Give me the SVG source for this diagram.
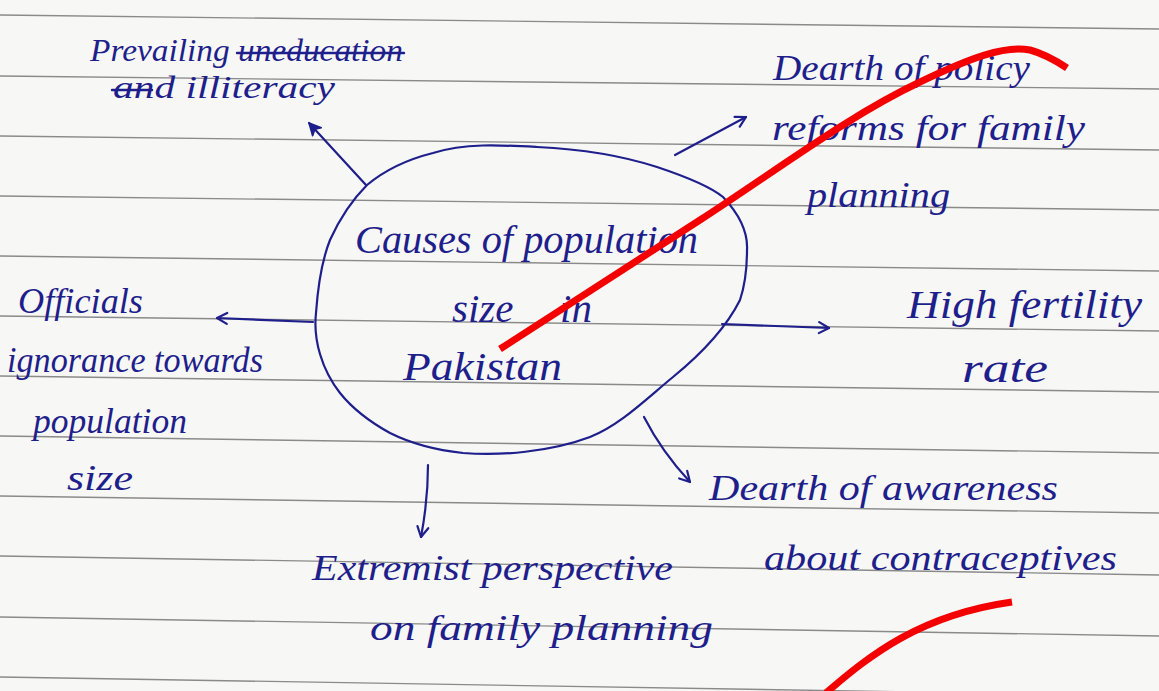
<svg xmlns="http://www.w3.org/2000/svg" width="1159" height="691" viewBox="0 0 1159 691">
<defs>
<style>
.ink{fill:#1f1f8c;font-family:"Liberation Serif","DejaVu Serif",serif;font-style:italic;font-size:36px}
.big{font-size:41px}
.small{font-size:32px}
.rule{stroke:#8a8a8a;stroke-width:1.4;fill:none}
.edge{stroke:#1f1f8c;stroke-width:2.2;fill:none;stroke-linecap:round}
.strike{stroke:#1f1f8c;stroke-width:2.4;stroke-linecap:round}
.red{stroke:#f40000;stroke-width:7;fill:none;stroke-linecap:butt}
</style>
<marker id="open" viewBox="0 0 14 14" refX="12" refY="7" markerWidth="14" markerHeight="14" markerUnits="userSpaceOnUse" orient="auto">
<path d="M2,1.5 L12,7 L2,12.5" fill="none" stroke="#1f1f8c" stroke-width="2.2" stroke-linecap="round" stroke-linejoin="round"/>
</marker>
<marker id="solid" viewBox="0 0 14 14" refX="12" refY="7" markerWidth="15" markerHeight="15" markerUnits="userSpaceOnUse" orient="auto">
<path d="M1,1.5 L12,7 L1,12.5 L4,7 Z" fill="#1f1f8c" stroke="#1f1f8c" stroke-width="1.5" stroke-linejoin="round"/>
</marker>
</defs>
<rect x="0" y="0" width="1159" height="691" fill="#f7f7f6"/>
<g id="rules">
<line class="rule" x1="0" y1="15" x2="1159" y2="29"/>
<line class="rule" x1="0" y1="76" x2="1159" y2="89"/>
<line class="rule" x1="0" y1="136" x2="1159" y2="150"/>
<line class="rule" x1="0" y1="196" x2="1159" y2="210"/>
<line class="rule" x1="0" y1="256" x2="1159" y2="271"/>
<line class="rule" x1="0" y1="316" x2="1159" y2="331"/>
<line class="rule" x1="0" y1="376" x2="1159" y2="392"/>
<line class="rule" x1="0" y1="436" x2="1159" y2="453"/>
<line class="rule" x1="0" y1="496" x2="1159" y2="513"/>
<line class="rule" x1="0" y1="556" x2="1159" y2="575"/>
<line class="rule" x1="0" y1="617" x2="1159" y2="636"/>
<line class="rule" x1="0" y1="677" x2="1159" y2="696"/>
</g>
<g id="center">
<path class="edge" d="M433,153 C465,143 500,145 537,147 C580,149 620,155 657,167 C690,178 712,188 723,197 C740,215 748,232 747,250 C747,270 745,285 740,300 C725,330 700,355 673,377 C645,400 620,425 590,437 C550,452 500,456 463,453 C435,450 410,443 390,433 C370,422 352,408 340,393 C322,370 313,340 316,313 C318,285 322,260 330,240 C340,218 352,200 367,185 C385,170 405,160 433,153 Z"/>
<text class="ink big" x="355" y="253" textLength="343" lengthAdjust="spacingAndGlyphs">Causes of population</text>
<text class="ink big" y="322"><tspan x="452">size</tspan><tspan x="560">in</tspan></text>
<text class="ink big" x="403" y="380" textLength="159" lengthAdjust="spacingAndGlyphs">Pakistan</text>
</g>
<g id="illiteracy">
<text class="ink small" x="90" y="61" textLength="313" lengthAdjust="spacingAndGlyphs">Prevailing uneducation</text>
<text class="ink small" x="113" y="98" textLength="222" lengthAdjust="spacingAndGlyphs">and illiteracy</text>
<line class="strike" x1="237" y1="53" x2="404" y2="53"/>
<line class="strike" x1="112" y1="90" x2="152" y2="90"/>
</g>
<g id="policy">
<text class="ink" x="773" y="80" textLength="257" lengthAdjust="spacingAndGlyphs">Dearth of policy</text>
<text class="ink" x="772" y="140" textLength="313" lengthAdjust="spacingAndGlyphs">reforms for family</text>
<text class="ink" x="807" y="207" textLength="143" lengthAdjust="spacingAndGlyphs">planning</text>
</g>
<g id="officials">
<text class="ink" x="18" y="313" textLength="125" lengthAdjust="spacingAndGlyphs">Officials</text>
<text class="ink" x="7" y="372" textLength="256" lengthAdjust="spacingAndGlyphs">ignorance towards</text>
<text class="ink" x="33" y="433" textLength="154" lengthAdjust="spacingAndGlyphs">population</text>
<text class="ink" x="67" y="490" textLength="66" lengthAdjust="spacingAndGlyphs">size</text>
</g>
<g id="fertility">
<text class="ink big" x="907" y="318" textLength="235" lengthAdjust="spacingAndGlyphs">High fertility</text>
<text class="ink big" x="962" y="382" textLength="86" lengthAdjust="spacingAndGlyphs">rate</text>
</g>
<g id="extremist">
<text class="ink" x="312" y="580" textLength="361" lengthAdjust="spacingAndGlyphs">Extremist perspective</text>
<text class="ink" x="370" y="640" textLength="343" lengthAdjust="spacingAndGlyphs">on family planning</text>
</g>
<g id="awareness">
<text class="ink" x="709" y="500" textLength="349" lengthAdjust="spacingAndGlyphs">Dearth of awareness</text>
<text class="ink" x="764" y="570" textLength="353" lengthAdjust="spacingAndGlyphs">about contraceptives</text>
</g>
<g id="connectors">
<path class="edge" d="M366,185 L309,123" marker-end="url(#solid)"/>
<path class="edge" d="M675,155 L746,117" marker-end="url(#open)"/>
<path class="edge" d="M313,322 L217,318" marker-end="url(#open)"/>
<path class="edge" d="M722,324 L829,328" marker-end="url(#open)"/>
<path class="edge" d="M428,465 Q428,500 421,537" marker-end="url(#open)"/>
<path class="edge" d="M644,417 Q662,452 690,482" marker-end="url(#open)"/>
</g>
<g id="red-marks">
<path class="red" d="M500,349 L700,220 C780,168 850,115 920,82 C970,58 1005,45 1030,50 C1045,54 1055,60 1067,68"/>
<path class="red" d="M826,693 C870,655 920,615 1012,602"/>
</g>
</svg>
